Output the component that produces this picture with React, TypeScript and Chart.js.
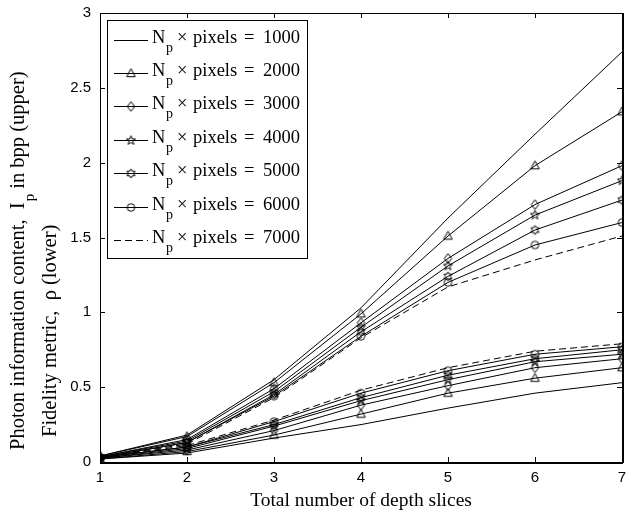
import React, { useEffect, useRef } from "react";
import { Chart, registerables } from "chart.js";

Chart.register(...registerables);

// Total number of depth slices (x axis)
const depthSlices = [1, 2, 3, 4, 5, 6, 7];
const yTickValues = [0, 0.5, 1, 1.5, 2, 2.5, 3];

// Photon budget per curve: Np x pixels
const photonProducts = [1000, 2000, 3000, 4000, 5000, 6000, 7000];

// Photon information content Ip in bpp (upper family)
const ip1000 = [0.04, 0.18, 0.55, 1.03, 1.63, 2.19, 2.74];
const ip2000 = [0.04, 0.17, 0.53, 0.99, 1.51, 1.98, 2.34];
const ip3000 = [0.035, 0.15, 0.49, 0.93, 1.36, 1.72, 1.98];
const ip4000 = [0.035, 0.14, 0.47, 0.9, 1.31, 1.65, 1.88];
const ip5000 = [0.03, 0.13, 0.45, 0.87, 1.24, 1.55, 1.75];
const ip6000 = [0.03, 0.13, 0.44, 0.84, 1.2, 1.45, 1.6];
const ip7000 = [0.03, 0.12, 0.43, 0.83, 1.17, 1.35, 1.51];

// Fidelity metric rho (lower family)
const rho1000 = [0.02, 0.06, 0.16, 0.25, 0.36, 0.46, 0.53];
const rho2000 = [0.02, 0.07, 0.18, 0.32, 0.46, 0.56, 0.63];
const rho3000 = [0.025, 0.08, 0.21, 0.38, 0.51, 0.63, 0.69];
const rho4000 = [0.025, 0.09, 0.24, 0.41, 0.55, 0.67, 0.72];
const rho5000 = [0.03, 0.1, 0.25, 0.43, 0.58, 0.69, 0.75];
const rho6000 = [0.03, 0.1, 0.27, 0.46, 0.61, 0.72, 0.77];
const rho7000 = [0.03, 0.11, 0.28, 0.48, 0.63, 0.74, 0.79];

const ipSeries = [ip1000, ip2000, ip3000, ip4000, ip5000, ip6000, ip7000];
const rhoSeries = [rho1000, rho2000, rho3000, rho4000, rho5000, rho6000, rho7000];

type MarkerKind = "none" | "triangle" | "diamond" | "pentagram" | "hexagram" | "circle";
const markerKinds: MarkerKind[] = ["none", "triangle", "diamond", "pentagram", "hexagram", "circle", "none"];
const dashed = [false, false, false, false, false, false, true];

const SERIF = "'Liberation Serif', 'Times New Roman', serif";
const SANS = "'Liberation Sans', Arial, Helvetica, sans-serif";

function starPath(g: CanvasRenderingContext2D, cx: number, cy: number, n: number, ro: number, ri: number) {
  for (let i = 0; i < n * 2; i++) {
    const r = i % 2 === 0 ? ro : ri;
    const a = -Math.PI / 2 + (i * Math.PI) / n;
    const px = cx + r * Math.cos(a);
    const py = cy + r * Math.sin(a);
    if (i === 0) g.moveTo(px, py);
    else g.lineTo(px, py);
  }
  g.closePath();
}

function makeMarker(kind: MarkerKind): HTMLCanvasElement {
  const c = document.createElement("canvas");
  c.width = 13;
  c.height = 13;
  const g = c.getContext("2d")!;
  g.strokeStyle = "#000";
  g.lineWidth = 1;
  const cx = 6.5;
  const cy = 6.5;
  g.beginPath();
  if (kind === "triangle") {
    g.moveTo(cx, cy - 4.8);
    g.lineTo(cx + 4.3, cy + 3.2);
    g.lineTo(cx - 4.3, cy + 3.2);
    g.closePath();
  } else if (kind === "diamond") {
    g.moveTo(cx, cy - 4.8);
    g.lineTo(cx + 3.7, cy);
    g.lineTo(cx, cy + 4.8);
    g.lineTo(cx - 3.7, cy);
    g.closePath();
  } else if (kind === "circle") {
    g.arc(cx, cy, 3.8, 0, Math.PI * 2);
  } else if (kind === "pentagram") {
    starPath(g, cx, cy, 5, 4.8, 2.0);
  } else if (kind === "hexagram") {
    starPath(g, cx, cy, 6, 4.6, 2.6);
  }
  g.stroke();
  return c;
}

function drawSubscripted(
  ctx: CanvasRenderingContext2D,
  x: number,
  y: number,
  before: string,
  sub: string,
  after: string,
  size: number,
  subSize: number,
  drop: number
) {
  ctx.font = `${size}px ${SERIF}`;
  ctx.fillText(before, x, y);
  let cx = x + ctx.measureText(before).width + 1;
  ctx.font = `${subSize}px ${SERIF}`;
  ctx.fillText(sub, cx, y + drop);
  cx += ctx.measureText(sub).width;
  ctx.font = `${size}px ${SERIF}`;
  ctx.fillText(after, cx, y);
}

export default function App() {
  const canvasRef = useRef<HTMLCanvasElement | null>(null);

  useEffect(() => {
    const canvas = canvasRef.current;
    if (!canvas) return;

    const markers = markerKinds.map((k) => (k === "none" ? null : makeMarker(k)));

    const datasets: any[] = [];
    photonProducts.forEach((p, i) => {
      const common = {
        borderColor: "#000",
        backgroundColor: "transparent",
        borderWidth: 1,
        borderDash: dashed[i] ? [7, 4] : [],
        tension: 0,
        fill: false,
        pointStyle: markers[i] ?? "circle",
        pointRadius: markers[i] ? 4 : 0,
        pointHoverRadius: markers[i] ? 4 : 0,
        pointBorderColor: "#000",
        pointBackgroundColor: "transparent",
      };
      datasets.push({
        ...common,
        label: `Ip ${p}`,
        data: depthSlices.map((x, j) => ({ x, y: ipSeries[i][j] })),
      });
      datasets.push({
        ...common,
        label: `rho ${p}`,
        data: depthSlices.map((x, j) => ({ x, y: rhoSeries[i][j] })),
      });
    });

    const decorations = {
      id: "decorations",
      afterDatasetsDraw(chart: any) {
        const ctx: CanvasRenderingContext2D = chart.ctx;
        const { left, right, top, bottom } = chart.chartArea;
        const xs = chart.scales.x;
        const ys = chart.scales.y;
        ctx.save();
        ctx.strokeStyle = "#000";
        ctx.fillStyle = "#000";
        ctx.setLineDash([]);

        // inward tick marks on all four sides
        ctx.lineWidth = 1;
        ctx.beginPath();
        depthSlices.forEach((v) => {
          const px = Math.round(xs.getPixelForValue(v)) + 0.5;
          ctx.moveTo(px, bottom);
          ctx.lineTo(px, bottom - 5);
          ctx.moveTo(px, top);
          ctx.lineTo(px, top + 5);
        });
        yTickValues.forEach((v) => {
          const py = Math.round(ys.getPixelForValue(v)) + 0.5;
          ctx.moveTo(left, py);
          ctx.lineTo(left + 5, py);
          ctx.moveTo(right, py);
          ctx.lineTo(right - 5, py);
        });
        ctx.stroke();

        // axes box
        ctx.lineWidth = 1;
        ctx.strokeRect(Math.round(left) + 0.5, Math.round(top) + 0.5, Math.round(right - left), Math.round(bottom - top));
        ctx.lineWidth = 2;
        ctx.beginPath();
        ctx.moveTo(left, Math.round(bottom) + 1);
        ctx.lineTo(right + 1, Math.round(bottom) + 1);
        ctx.moveTo(Math.round(right) + 1, top);
        ctx.lineTo(Math.round(right) + 1, bottom + 1);
        ctx.stroke();

        // legend
        const lx0 = 107;
        const ly0 = 20;
        const lx1 = 307;
        const ly1 = 258;
        ctx.fillStyle = "#fff";
        ctx.fillRect(lx0, ly0, lx1 - lx0, ly1 - ly0);
        ctx.lineWidth = 1;
        ctx.strokeRect(lx0 + 0.5, ly0 + 0.5, lx1 - lx0, ly1 - ly0);
        ctx.fillStyle = "#000";
        ctx.textBaseline = "alphabetic";
        ctx.textAlign = "left";
        photonProducts.forEach((p, i) => {
          const yLine = Math.round(39.5 + i * 33.4) + 0.5;
          ctx.lineWidth = 1;
          ctx.setLineDash(dashed[i] ? [7, 4] : []);
          ctx.beginPath();
          ctx.moveTo(114, yLine);
          ctx.lineTo(148, yLine);
          ctx.stroke();
          ctx.setLineDash([]);
          const m = markers[i];
          if (m) ctx.drawImage(m, 131 - m.width / 2, yLine - m.height / 2);
          const base = yLine + 2.5;
          ctx.font = `18.5px ${SERIF}`;
          ctx.fillText("N", 152, base);
          ctx.font = `14px ${SERIF}`;
          ctx.fillText("p", 166, base + 9);
          ctx.font = `18.5px ${SERIF}`;
          ctx.fillText("\u00d7", 177, base);
          ctx.fillText("pixels", 193, base);
          ctx.fillText("=", 244, base);
          ctx.fillText(String(p), 263, base);
        });

        // x axis title
        ctx.font = `19.5px ${SERIF}`;
        ctx.textAlign = "center";
        ctx.fillText("Total number of depth slices", (left + right) / 2, 506);

        // y axis title, two lines reading bottom to top
        ctx.textAlign = "left";
        ctx.save();
        ctx.translate(24, 450);
        ctx.rotate(-Math.PI / 2);
        drawSubscripted(ctx, 0, 0, "Photon information content,  I", "p", " in bpp (upper)", 20.5, 15, 10);
        ctx.restore();
        ctx.save();
        ctx.translate(56, 437);
        ctx.rotate(-Math.PI / 2);
        ctx.font = `20.5px ${SERIF}`;
        ctx.fillText("Fidelity metric,  \u03c1 (lower)", 0, 0);
        ctx.restore();

        ctx.restore();
      },
    };

    const chart = new Chart(canvas, {
      type: "line",
      data: { datasets },
      options: {
        animation: false,
        responsive: false,
        devicePixelRatio: 1,
        events: [],
        layout: { padding: { left: 0, top: 13, right: 4, bottom: 0 } },
        plugins: {
          legend: { display: false },
          tooltip: { enabled: false },
        },
        scales: {
          x: {
            type: "linear",
            min: 1,
            max: 7,
            grid: { display: false, drawTicks: false },
            border: { display: false },
            afterBuildTicks: (scale: any) => {
              scale.ticks = depthSlices.map((v) => ({ value: v }));
            },
            afterFit: (scale: any) => {
              scale.height = 50;
              scale.paddingLeft = 0;
              scale.paddingRight = 0;
            },
            ticks: {
              padding: 7,
              color: "#000",
              font: { family: SANS, size: 15 },
              maxRotation: 0,
              autoSkip: false,
              callback: (v: any) => String(v),
            },
          },
          y: {
            type: "linear",
            min: 0,
            max: 3,
            grid: { display: false, drawTicks: false },
            border: { display: false },
            afterBuildTicks: (scale: any) => {
              scale.ticks = yTickValues.map((v) => ({ value: v }));
            },
            afterFit: (scale: any) => {
              scale.width = 100;
              scale.paddingTop = 0;
              scale.paddingBottom = 0;
            },
            ticks: {
              padding: 9,
              color: "#000",
              font: { family: SANS, size: 15 },
              autoSkip: false,
              callback: (v: any) => String(v),
            },
          },
        },
      },
      plugins: [decorations],
    });

    return () => chart.destroy();
  }, []);

  return (
    <div style={{ position: "fixed", left: 0, top: 0, width: 627, height: 512, background: "#fff" }}>
      <canvas ref={canvasRef} width={627} height={512} />
    </div>
  );
}
